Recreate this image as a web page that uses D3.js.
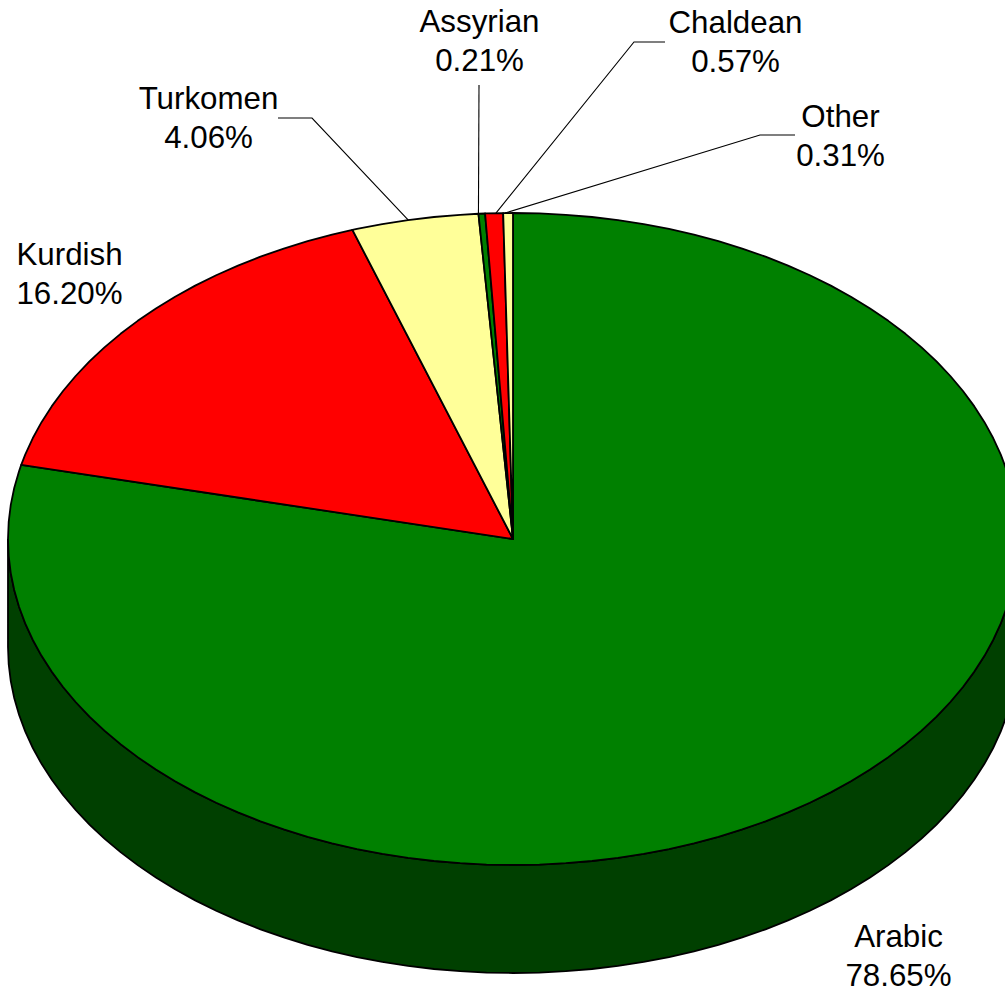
<!DOCTYPE html>
<html><head><meta charset="utf-8">
<script src="https://cdn.jsdelivr.net/npm/d3@7/dist/d3.min.js"></script>
<style>html,body{margin:0;padding:0;background:#fff;overflow:hidden}svg{display:block}text{font-family:"Liberation Sans",Arial,sans-serif;font-size:31.3px;fill:#000}</style>
</head><body><div id="chart"></div>
<script>
const categories = ["Arabic","Kurdish","Turkomen","Assyrian","Chaldean","Other"];
const shares = [78.65,16.20,4.06,0.21,0.57,0.31];
const tickLabels = ["78.65%","16.20%","4.06%","0.21%","0.57%","0.31%"];
const colors = ["#008000","#ff0000","#ffff99","#008000","#ff0000","#ffff99"];
const labelAnchors = [[898.5,947],[69.5,265],[208.5,109],[479.5,32],[735.5,33],[840.5,127]];
const leaderBends = [null,null,[[278,118],[312,118]],[[479,85]],[[665,42],[634,42]],[[795,135],[760,135]]];
const leaderTipFractions = [0,0,0.45,0,0.6,0.18];

const W=1005,H=991,cx=513,cy=539,rx=505,ry=326,depth=108;
const svg=d3.select("#chart").append("svg").attr("width",W).attr("height",H);
const pie=d3.pie().sort(null).value(d=>d)(shares);
const yScale=d3.scaleLinear().domain([-1,1]).range([cy-ry,cy+ry]);
const xScale=d3.scaleLinear().domain([-1,1]).range([cx-rx,cx+rx]);
const pt=(a,dz=0)=>[xScale(Math.sin(a)),yScale(-Math.cos(a))+dz];
// arcs are short straight chords on a fixed angular grid, as in the original
const step=Math.PI/60;
const arcPts=(a0,a1,dz=0)=>{
  const as=[a0];
  for(let k=Math.ceil(a0/step+1e-6);k*step<a1-1e-6;k++)as.push(k*step);
  as.push(a1);
  return as.map(a=>pt(a,dz));
};
const line=d3.line();
const sw=1.8;
const sidePts=arcPts(Math.PI/2,Math.PI*1.5).concat(arcPts(Math.PI/2,Math.PI*1.5,depth).reverse());
svg.append("path").attr("d",line(sidePts)+"Z").attr("fill","#004000").attr("stroke","#000").attr("stroke-width",sw);
svg.selectAll("path.slice").data(pie).join("path").attr("class","slice")
  .attr("d",d=>line([[cx,cy],...arcPts(d.startAngle,d.endAngle)])+"Z")
  .attr("fill",(d,i)=>colors[i]).attr("stroke","#000").attr("stroke-width",sw).attr("stroke-linejoin","round");
pie.forEach((d,i)=>{ if(!leaderBends[i])return;
  const tip=d.startAngle+(d.endAngle-d.startAngle)*leaderTipFractions[i];
  svg.append("path").attr("d",line([...leaderBends[i],pt(tip)])).attr("fill","none").attr("stroke","#000").attr("stroke-width",1.1);
});
categories.forEach((c,i)=>{
  const [x,y]=labelAnchors[i];
  const t=svg.append("text").attr("text-anchor","middle").attr("x",x).attr("y",y);
  t.append("tspan").attr("x",x).text(c);
  t.append("tspan").attr("x",x).attr("dy",39).text(tickLabels[i]);
});
</script></body></html>
